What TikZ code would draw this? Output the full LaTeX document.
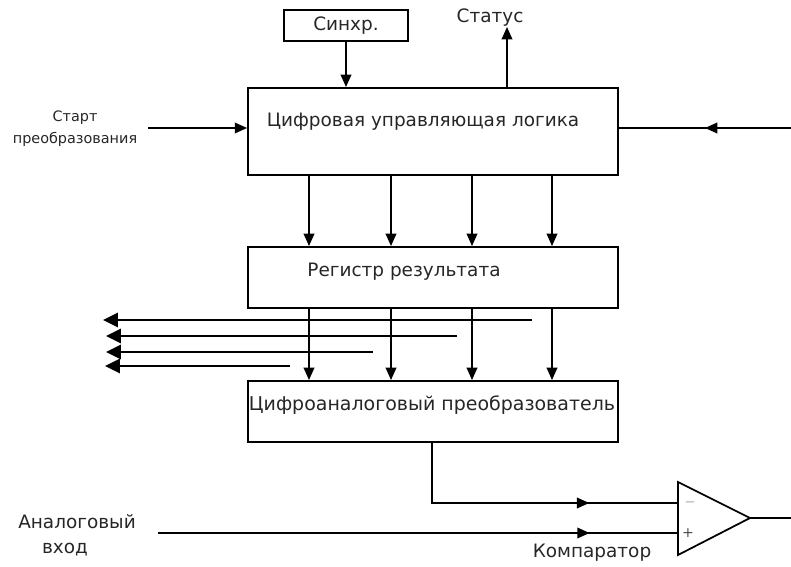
\documentclass[tikz,border=0pt]{standalone}
\usepackage{fontspec}
\setmainfont{DejaVu Sans}
\usetikzlibrary{arrows.meta,decorations.markings}

\tikzset{
  block/.style={draw, rectangle, line width=1.1pt, inner sep=0pt},
  wire/.style={line width=1pt},
  tip/.style={-{Triangle[length=7pt,width=6pt]}},
  midarrow/.style={postaction={decorate}, decoration={markings,
      mark=at position #1 with {\arrow{Triangle[length=7pt,width=6pt]}}}},
  busout/.style={line width=1.7pt, -{Triangle[length=8.5pt,width=8pt]}},
  lbl/.style={font=\fontsize{10.5}{12}\selectfont, text=black!85, inner sep=0pt},
  smalllbl/.style={font=\fontsize{8.2}{12.5}\selectfont, text=black!85, inner sep=0pt, align=center},
}

\begin{document}
\begin{tikzpicture}[x=0.02cm, y=-0.02cm]
	%\draw [help lines] (0,0) grid (791,567);
	\useasboundingbox (0,0) rectangle (791,567);
	% blocks
	\node[block, minimum width=2.48cm, minimum height=0.62cm] (sync) at (346,25.5) {};
	\node[lbl] (synctxt) at (346,26) {Синхр.};
	\node[block, minimum width=7.4cm, minimum height=1.74cm] (logic) at (433,131.5) {};
	\node[lbl] (logictxt) at (423,122) {Цифровая управляющая логика};
	\node[block, minimum width=7.4cm, minimum height=1.22cm] (reg) at (433,277.5) {};
	\node[lbl] (regtxt) at (404,272) {Регистр результата};
	\node[block, minimum width=7.4cm, minimum height=1.22cm] (dac) at (433,411.5) {};
	\node[lbl, font=\fontsize{10.8}{12}\selectfont] (dactxt) at (432,405) {Цифроаналоговый преобразователь};
	% labels
	\node[lbl] (status) at (490,18) {Статус};
	\node[smalllbl] (start) at (75,129) {Старт\\преобразования};
	\node[lbl] (ain1) at (77,522) {Аналоговый};
	\node[lbl] (ain2) at (65,550) {вход};
	\node[lbl] (cmptxt) at (592,553) {Компаратор};
	% comparator
	\coordinate (cmptop) at (678,482);
	\coordinate (cmpbot) at (678,555);
	\coordinate (cmpout) at (750,518);
	\coordinate (cmpneg) at (678,503);
	\coordinate (cmppos) at (678,533);
	\draw[wire] (cmptop) -- (cmpout) -- (cmpbot) -- cycle;
	\node[font=\fontsize{7}{8}\selectfont, text=black!60, inner sep=0pt] (minus) at (690,502) {$-$};
	\node[font=\fontsize{8}{8}\selectfont, text=black!70, inner sep=0pt] (plus) at (688,533) {+};
	\coordinate (outend) at (791,518);
	\draw[wire] (cmpout) -- (outend);
	% inputs and outputs of the logic
	\draw[wire, tip] (sync.south) -- (sync.south |- logic.north);
	\coordinate (statusend) at (507,27);
	\draw[wire, tip] (statusend |- logic.north) -- (statusend);
	\coordinate (startbeg) at (148,128);
	\draw[wire, tip] (startbeg) -- (startbeg -| logic.west);
	\coordinate (rightbeg) at (791,128);
	\draw[wire, midarrow=0.5] (rightbeg) -- (rightbeg -| logic.east);
	% data lines
	\foreach \x in {309,391,472,552} {
		\draw[wire, tip] (\x,0 |- logic.south) -- (\x,0 |- reg.north);
		\draw[wire, tip] (\x,0 |- reg.south) -- (\x,0 |- dac.north);
	}
	% result outputs
	\foreach \xa/\ya/\xb in {532/320/103, 457/336/106, 373/352/106, 290/366/105} {
		\draw[busout] (\xa,\ya) -- (\xb,\ya);
	}
	% comparator inputs
	\draw[wire, midarrow=0.71] (432,0 |- dac.south) -- (432,503) -- (cmpneg);
	\coordinate (ainbeg) at (158,533);
	\draw[wire, midarrow=0.83] (ainbeg) -- (cmppos);
\end{tikzpicture}
\end{document}
